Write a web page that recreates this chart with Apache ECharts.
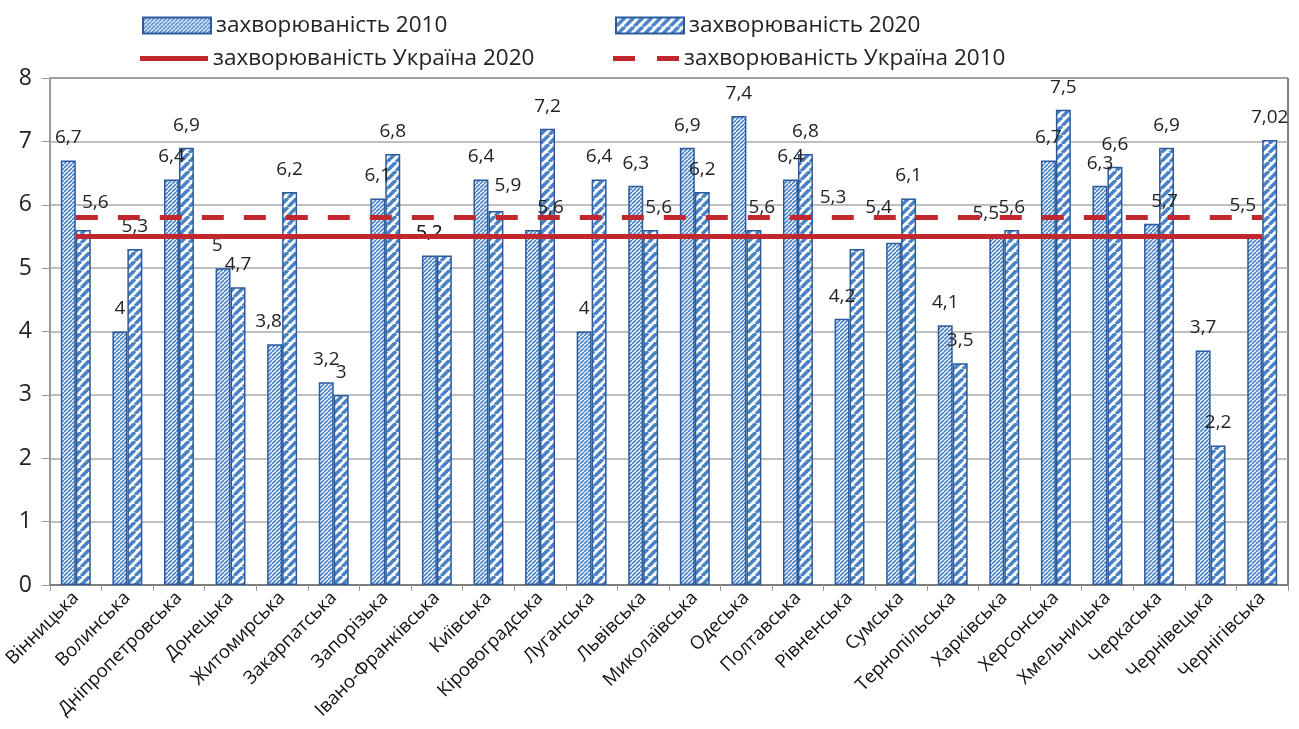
<!DOCTYPE html>
<html><head><meta charset="utf-8">
<script src="https://cdn.jsdelivr.net/npm/echarts@6/dist/echarts.min.js"></script>
<style>html,body{margin:0;padding:0;background:#fff}#c{width:1299px;height:729px}</style>
</head><body><div id="c"></div>
<script>
const categories = ['Вінницька','Волинська','Дніпропетровська','Донецька','Житомирська','Закарпатська','Запорізька','Івано-Франківська','Київська','Кіровоградська','Луганська','Львівська','Миколаївська','Одеська','Полтавська','Рівненська','Сумська','Тернопільська','Харківська','Херсонська','Хмельницька','Черкаська','Чернівецька','Чернігівська'];
const values2010 = [6.7,4,6.4,5,3.8,3.2,6.1,5.2,6.4,5.6,4,6.3,6.9,7.4,6.4,4.2,5.4,4.1,5.5,6.7,6.3,5.7,3.7,5.5];
const values2020 = [5.6,5.3,6.9,4.7,6.2,3,6.8,5.2,5.9,7.2,6.4,5.6,6.2,5.6,6.8,5.3,6.1,3.5,5.6,7.5,6.6,6.9,2.2,7.02];
const ukraine2020 = 5.5;
const ukraine2010 = 5.8;
const yTicks = [0,1,2,3,4,5,6,7,8];
const names = ['захворюваність 2010','захворюваність 2020','захворюваність Україна 2020','захворюваність Україна 2010'];

const FONT = '"Open Sans", sans-serif';
const RED = '#c1272d';
// manual label nudges (style only), keyed by region
const nudge2010 = {'Донецька': [-6, 0], 'Житомирська': [-6, 0], 'Кіровоградська': [18, 0], 'Сумська': [-15, -13],
  'Харківська': [-11, 0], 'Черкаська': [13, 0], 'Чернігівська': [-12, -8]};
const nudge2020 = {'Вінницька': [12, -5], 'Івано-Франківська': [-15, 0], 'Київська': [12, -3], 'Львівська': [8, 0],
  'Одеська': [8, 0], 'Рівненська': [-24, -29]};

function pattern(s, w) {
  const c = document.createElement('canvas');
  c.width = s; c.height = s;
  const g = c.getContext('2d');
  g.fillStyle = '#fff'; g.fillRect(0,0,s,s);
  g.strokeStyle = '#4a82c6'; g.lineWidth = w;
  for (let k = -1; k <= 1; k++) {
    g.beginPath(); g.moveTo(k*s, s); g.lineTo(k*s + s, 0); g.stroke();
  }
  return c;
}
const p2010 = {image: pattern(4, 1.6), repeat: 'repeat'};
const p2020 = {image: pattern(9, 3.6), repeat: 'repeat'};
const fmt = p => String(p.value).replace('.', ',');
const lbl = {show: true, position: 'top', distance: 13, fontSize: 19, color: '#222', fontFamily: FONT, formatter: fmt};
const layoutFor = nudges => p => {
  const n = nudges[categories[p.dataIndex]];
  return n ? {dx: n[0], dy: n[1]} : {};
};
const legendBase = {itemWidth: 68, itemHeight: 16, textStyle: {fontSize: 22.5, color: '#222', fontFamily: FONT}, itemGap: 10, selectedMode: false};

const chart = echarts.init(document.getElementById('c'));
chart.setOption({
  animation: false,
  backgroundColor: '#fff',
  grid: {left: 50, right: 11, top: 78, bottom: 144, show: true, borderColor: '#000', borderWidth: 1},
  legend: [
    Object.assign({}, legendBase, {data: [{name: names[0], icon: 'rect'}], left: 137, top: 9}),
    Object.assign({}, legendBase, {data: [{name: names[1], icon: 'rect'}], left: 610, top: 9}),
    Object.assign({}, legendBase, {itemHeight: 5, data: [{name: names[2], icon: 'rect', itemStyle: {color: RED}}], left: 135, top: 42}),
    Object.assign({}, legendBase, {itemHeight: 5, itemWidth: 66, data: [{name: names[3], icon: 'path://M0,0h22v5h-22z M44,0h22v5h-22z', itemStyle: {color: RED}}], left: 608, top: 42})
  ],
  xAxis: {
    type: 'category', data: categories,
    axisLine: {lineStyle: {color: '#7f7f7f', width: 2}},
    axisTick: {show: true, interval: 0, length: 6, lineStyle: {color: '#999'}},
    axisLabel: {interval: 0, rotate: 45, fontSize: 18.5, color: '#111', fontFamily: FONT, margin: 10}
  },
  yAxis: {
    type: 'value', min: 0, max: 8, interval: 1,
    axisLine: {show: true, lineStyle: {color: '#999', width: 2}},
    axisTick: {show: true, length: 8, lineStyle: {color: '#999'}},
    splitLine: {lineStyle: {color: '#aaa', width: 1.5}},
    axisLabel: {fontSize: 23, color: '#222', fontFamily: FONT, margin: 18, formatter: v => yTicks.includes(v) ? String(v) : ''}
  },
  series: [
    {name: names[0], type: 'bar', data: values2010, barGap: '0%', barCategoryGap: '42%',
     itemStyle: {color: p2010, borderColor: '#2b5b9c', borderWidth: 1.5}, label: lbl, labelLayout: layoutFor(nudge2010), z: 2},
    {name: names[1], type: 'bar', data: values2020,
     itemStyle: {color: p2020, borderColor: '#2b5b9c', borderWidth: 1.5}, label: lbl, labelLayout: layoutFor(nudge2020), z: 2},
    {name: names[2], type: 'line', data: [[categories[0], ukraine2020], [categories[categories.length-1], ukraine2020]],
     symbol: 'none', lineStyle: {color: RED, width: 5}, itemStyle: {color: RED}, z: 5},
    {name: names[3], type: 'line', data: [[categories[0], ukraine2010], [categories[categories.length-1], ukraine2010]],
     symbol: 'none', lineStyle: {color: RED, width: 5, type: [22, 20]}, itemStyle: {color: RED}, z: 5}
  ]
});
</script></body></html>
